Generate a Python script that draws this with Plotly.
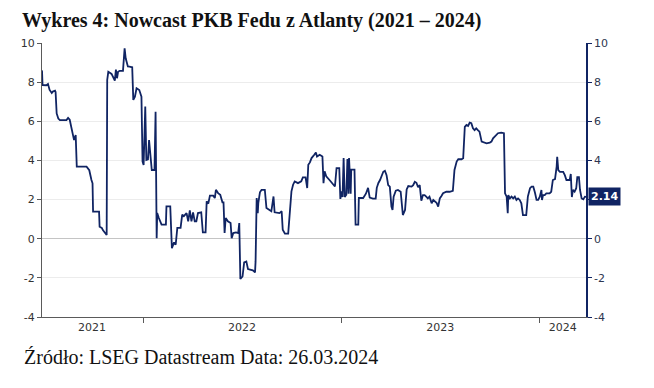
import plotly.graph_objects as go

# ---------------- data ----------------
dates_2021 = ["2021-06-29", "2021-06-30", "2021-07-07", "2021-07-10", "2021-07-13", "2021-07-17",
              "2021-07-19", "2021-07-23", "2021-07-24", "2021-07-26", "2021-07-29", "2021-08-01",
              "2021-08-13", "2021-08-16", "2021-08-19", "2021-08-22", "2021-08-25", "2021-08-27",
              "2021-08-30", "2021-09-01", "2021-09-19", "2021-09-20", "2021-09-24", "2021-09-28",
              "2021-09-30", "2021-10-01", "2021-10-12", "2021-10-13", "2021-10-17", "2021-10-19",
              "2021-10-23", "2021-10-26", "2021-10-27", "2021-10-29", "2021-11-04", "2021-11-07",
              "2021-11-10", "2021-11-12", "2021-11-14", "2021-11-16", "2021-11-19", "2021-11-25",
              "2021-11-28", "2021-11-30", "2021-12-03", "2021-12-04", "2021-12-07", "2021-12-12",
              "2021-12-14", "2021-12-17", "2021-12-20", "2021-12-25", "2021-12-29", "2021-12-31"]
values_2021 = [8.6, 7.85, 7.84, 7.9, 7.6, 7.45,
               7.52, 7.56, 7.5, 6.4, 6.14, 6.06,
               6.06, 6.17, 6.08, 5.72, 5.3, 5.04,
               5.3, 3.68, 3.68, 3.65, 3.5, 3.0,
               2.83, 1.38, 1.38, 0.61, 0.55, 0.44,
               0.3, 0.19, 8.11, 8.53, 8.42, 8.25,
               8.08, 8.64, 8.2, 8.53, 8.58, 8.58,
               9.73, 9.22, 8.96, 8.8, 8.79, 8.76,
               7.09, 7.26, 7.69, 7.6, 7.26, 3.94]

dates_2022 = ["2022-01-02", "2022-01-05", "2022-01-07", "2022-01-10", "2022-01-12", "2022-01-15",
              "2022-01-17", "2022-01-22", "2022-01-24", "2022-01-26", "2022-01-27", "2022-01-30",
              "2022-02-04", "2022-02-12", "2022-02-13", "2022-02-20", "2022-02-23", "2022-02-27",
              "2022-03-02", "2022-03-05", "2022-03-11", "2022-03-14", "2022-03-17", "2022-03-22",
              "2022-03-25", "2022-03-28", "2022-03-31", "2022-04-03", "2022-04-06", "2022-04-09",
              "2022-04-12", "2022-04-18", "2022-04-21", "2022-04-26", "2022-04-28", "2022-05-01",
              "2022-05-04", "2022-05-10", "2022-05-13", "2022-05-15", "2022-05-19", "2022-05-23",
              "2022-05-27", "2022-05-29", "2022-05-31", "2022-06-02", "2022-06-06", "2022-06-11",
              "2022-06-13", "2022-06-16", "2022-06-21", "2022-06-25", "2022-06-27", "2022-06-29",
              "2022-07-03", "2022-07-06", "2022-07-10", "2022-07-13", "2022-07-22", "2022-07-26",
              "2022-07-27", "2022-07-29", "2022-07-31", "2022-08-01", "2022-08-04", "2022-08-07",
              "2022-08-13", "2022-08-16", "2022-08-22", "2022-08-25", "2022-08-29", "2022-08-31",
              "2022-09-09", "2022-09-13", "2022-09-15", "2022-09-19", "2022-09-25", "2022-09-28",
              "2022-10-01", "2022-10-04", "2022-10-07", "2022-10-13", "2022-10-19", "2022-10-22",
              "2022-10-27", "2022-10-30", "2022-11-01", "2022-11-04", "2022-11-07", "2022-11-12",
              "2022-11-15", "2022-11-17", "2022-11-22", "2022-11-27", "2022-11-29", "2022-12-01",
              "2022-12-04", "2022-12-10", "2022-12-17", "2022-12-20", "2022-12-23", "2022-12-28",
              "2022-12-30"]
values_2022 = [3.77, 6.75, 4.02, 4.05, 5.04, 4.0,
               3.51, 3.51, 6.49, 0.03, 1.31, 1.06,
               0.72, 0.72, 1.65, 1.65, -0.48, -0.19,
               -0.31, 0.55, 0.55, 1.23, 1.15, 1.31,
               0.89, 1.45, 0.89, 1.35, 0.89, 0.89,
               1.31, 1.35, 0.32, 0.32, 1.91, 1.79,
               2.2, 2.2, 2.08, 2.5, 2.33, 2.25,
               1.86, 1.86, 0.29, 1.06, 0.89, 0.8,
               0.03, 0.29, 0.32, 0.29, 0.8, -2.06,
               -1.93, -1.21, -1.16, -1.55, -1.62, -1.72,
               -1.16, 2.08, 1.31, 1.82, 2.37, 2.5,
               2.5, 1.57, 1.48, 1.4, 2.16, 1.35,
               1.31, 1.4, 0.46, 0.26, 0.26, 1.31,
               2.42, 2.76, 2.93, 2.84, 2.93, 3.13,
               3.13, 2.59, 3.78, 3.9, 4.12, 4.29,
               4.41, 4.2, 4.29, 4.2, 2.84, 3.44,
               3.19, 3.0, 2.76, 2.67, 3.61, 3.61,
               2.03]

dates_2023 = ["2023-01-01", "2023-01-03", "2023-01-05", "2023-01-07", "2023-01-10", "2023-01-12",
              "2023-01-14", "2023-01-15", "2023-01-18", "2023-01-19", "2023-01-25", "2023-01-27",
              "2023-02-01", "2023-02-02", "2023-02-10", "2023-02-15", "2023-02-19", "2023-02-22",
              "2023-02-28", "2023-03-05", "2023-03-07", "2023-03-10", "2023-03-13", "2023-03-19",
              "2023-03-22", "2023-03-25", "2023-03-28", "2023-03-31", "2023-04-03", "2023-04-05",
              "2023-04-07", "2023-04-11", "2023-04-15", "2023-04-20", "2023-04-22", "2023-04-24",
              "2023-04-28", "2023-05-01", "2023-05-04", "2023-05-10", "2023-05-13", "2023-05-16",
              "2023-05-19", "2023-05-22", "2023-05-25", "2023-05-28", "2023-05-31", "2023-06-03",
              "2023-06-06", "2023-06-09", "2023-06-12", "2023-06-16", "2023-06-19", "2023-06-22",
              "2023-06-25", "2023-06-28", "2023-07-01", "2023-07-04", "2023-07-07", "2023-07-13",
              "2023-07-19", "2023-07-25", "2023-07-28", "2023-08-01", "2023-08-04", "2023-08-10",
              "2023-08-13", "2023-08-16", "2023-08-19", "2023-08-22", "2023-08-25", "2023-08-28",
              "2023-08-31", "2023-09-03", "2023-09-06", "2023-09-09", "2023-09-12", "2023-09-16",
              "2023-09-20", "2023-09-25", "2023-10-01", "2023-10-04", "2023-10-07", "2023-10-10",
              "2023-10-13", "2023-10-16", "2023-10-22", "2023-10-27", "2023-10-29", "2023-11-01",
              "2023-11-03", "2023-11-04", "2023-11-07", "2023-11-10", "2023-11-13", "2023-11-16",
              "2023-11-19", "2023-11-22", "2023-11-25", "2023-11-28", "2023-12-01", "2023-12-07",
              "2023-12-10", "2023-12-14", "2023-12-17", "2023-12-20", "2023-12-23", "2023-12-26",
              "2023-12-29"]
values_2023 = [2.42, 2.13, 4.12, 2.13, 2.25, 4.07,
               2.3, 4.12, 2.3, 3.53, 3.53, 0.72,
               0.72, 2.08, 2.08, 2.3, 2.6, 2.1,
               2.05, 2.05, 2.6, 2.85, 3.0, 3.42,
               3.47, 3.25, 2.74, 2.66, 1.64, 1.47,
               2.15, 2.45, 2.49, 2.4, 1.81, 1.21,
               1.47, 2.52, 2.69, 2.66, 2.74, 2.91,
               2.86, 2.63, 2.74, 1.94, 2.23, 2.23,
               2.15, 2.06, 2.15, 1.81, 1.98, 1.9,
               1.84, 1.64, 2.06, 2.18, 2.32, 2.4,
               2.4, 2.45, 3.51, 3.94, 4.06, 4.06,
               4.11, 5.72, 5.81, 5.76, 5.93, 5.9,
               5.64, 5.55, 5.64, 5.55, 5.47, 4.96,
               4.91, 4.87, 4.91, 4.96, 5.13, 5.21,
               5.3, 5.39, 5.42, 5.39, 2.32, 2.15,
               1.3, 2.23, 2.06, 2.15, 2.06, 2.15,
               1.98, 2.06, 1.98, 1.81, 1.21, 1.21,
               2.15, 2.58, 2.66, 2.66, 2.36, 1.98,
               1.98]

dates_2024 = ["2024-01-01", "2024-01-04", "2024-01-05", "2024-01-07", "2024-01-10", "2024-01-13",
              "2024-01-19", "2024-01-22", "2024-01-25", "2024-01-29", "2024-02-01", "2024-02-02",
              "2024-02-04", "2024-02-07", "2024-02-13", "2024-02-16", "2024-02-19", "2024-02-25",
              "2024-02-27", "2024-02-29", "2024-03-02", "2024-03-05", "2024-03-08", "2024-03-10",
              "2024-03-13", "2024-03-15", "2024-03-18", "2024-03-21", "2024-03-24", "2024-03-26"]
values_2024 = [2.15, 2.49, 1.98, 2.23, 2.23, 2.32,
               2.32, 2.4, 3.0, 3.05, 3.68, 4.19,
               3.51, 3.42, 3.42, 3.25, 3.0, 3.0,
               3.31, 2.13, 2.49, 2.4, 2.58, 3.14,
               3.14, 2.49, 2.06, 2.01, 2.15, 2.14]

year_labels = ["2021", "2022", "2023", "2024"]
year_label_dates = ["2021-09-29", "2022-07-02", "2023-07-02", "2024-02-12"]
y_ticks = [-4, -2, 0, 2, 4, 6, 8, 10]
left_tick_text = ["-4", "-2", "0", "2", "4", "6", "8", "10"]
# the "2" on the right axis is hidden behind the last-value box in the reference
right_tick_text = ["-4", "-2", "0", "", "4", "6", "8", "10"]
last_value_text = "2.14"

title_text = "Wykres 4: Nowcast PKB Fedu z Atlanty (2021 – 2024)"
source_text = "Źródło: LSEG Datastream Data: 26.03.2024"

for d, v in [(dates_2021, values_2021), (dates_2022, values_2022),
             (dates_2023, values_2023), (dates_2024, values_2024)]:
    assert len(d) == len(v), (len(d), len(v))

dates = dates_2021 + dates_2022 + dates_2023 + dates_2024
values = values_2021 + values_2022 + values_2023 + values_2024

# ---------------- figure ----------------
NAVY = "#102463"
AXIS_GREY = "#5a5a5a"
# the page body keeps its default 8px margin, so the figure is drawn 8px smaller
OFF = 8
W, H = 654 - OFF, 388 - OFF
ML, MR, MT, MB = 42 - OFF, 68, 43 - OFF, 71
plot_w = W - ML - MR
plot_h = H - MT - MB

fig = go.Figure()
fig.add_trace(go.Scatter(
    x=dates, y=values, mode="lines",
    line=dict(color=NAVY, width=1.8),
    showlegend=False, hoverinfo="skip",
))
# invisible trace to activate the right-hand axis
fig.add_trace(go.Scatter(
    x=[dates[-1]], y=[values[-1]], yaxis="y2", mode="markers",
    marker=dict(opacity=0), showlegend=False, hoverinfo="skip",
))

tick_font = dict(family="DejaVu Sans", size=11, color="#333333")

fig.update_layout(
    width=W, height=H,
    margin=dict(l=ML, r=MR, t=MT, b=MB, autoexpand=False),
    paper_bgcolor="white", plot_bgcolor="white",
    title=dict(
        text="<b>" + title_text + "</b>",
        font=dict(family="Liberation Serif", size=20, color="#111111"),
        x=(22 - OFF) / W, xanchor="left", xref="container",
        y=1 - (20 - OFF) / H, yanchor="middle", yref="container",
    ),
    xaxis=dict(
        type="date",
        range=[dates[0], dates[-1]],
        showgrid=False, zeroline=False,
        showline=True, linecolor=AXIS_GREY, linewidth=1,
        tickvals=year_label_dates, ticktext=year_labels,
        ticks="", tickfont=tick_font,
        minor=dict(ticks="outside", ticklen=5, tickcolor=AXIS_GREY, tickwidth=1,
                   dtick="M12", tick0="2022-01-01", showgrid=False),
    ),
    yaxis=dict(
        range=[-4, 10], tickvals=y_ticks, ticktext=left_tick_text,
        showgrid=True, gridcolor="#ececec", gridwidth=1,
        zeroline=True, zerolinecolor="#c4c4c4", zerolinewidth=1,
        showline=True, linecolor=AXIS_GREY, linewidth=1,
        ticks="outside", ticklen=4, tickcolor=AXIS_GREY,
        tickfont=tick_font,
    ),
    yaxis2=dict(
        overlaying="y", side="right",
        range=[-4, 10], tickvals=y_ticks, ticktext=right_tick_text,
        showgrid=False, zeroline=False,
        showline=True, linecolor=NAVY, linewidth=1.5,
        ticks="outside", ticklen=4, tickcolor=NAVY,
        tickfont=dict(family="DejaVu Sans", size=11, color="#2e3650"),
    ),
    annotations=[
        dict(
            text="<b>" + last_value_text + "</b>",
            x=1, xref="paper", xanchor="left", xshift=2,
            y=values[-1], yref="y", yanchor="middle",
            showarrow=False, bgcolor=NAVY, borderpad=2,
            font=dict(family="DejaVu Sans", size=11, color="white"),
        ),
        dict(
            text=source_text,
            x=-20 / plot_w, xref="paper", xanchor="left",
            y=-40 / plot_h, yref="paper", yanchor="middle",
            showarrow=False,
            font=dict(family="Liberation Serif", size=20, color="#111111"),
        ),
    ],
)

fig.write_html("out.html")
